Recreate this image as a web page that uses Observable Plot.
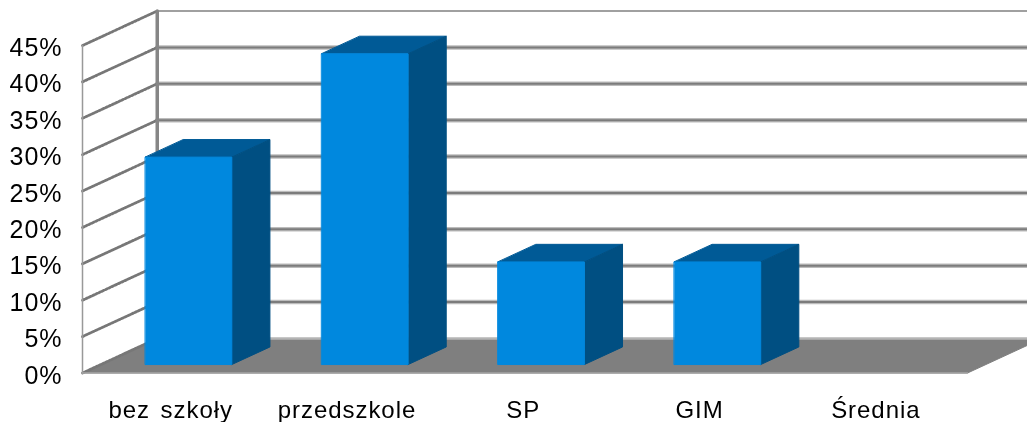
<!DOCTYPE html>
<html>
<head>
<meta charset="utf-8">
<script src="https://cdn.jsdelivr.net/npm/d3@7"></script>
<script src="https://cdn.jsdelivr.net/npm/@observablehq/plot@0.6"></script>
<style>
html,body{margin:0;padding:0;background:#fff;overflow:hidden}
svg{display:block;filter:blur(0.55px)}
svg text{letter-spacing:0.95px;word-spacing:3px}
</style>
</head>
<body>
<div id="chart"></div>
<script>
const categories = ["bez szkoły", "przedszkole", "SP", "GIM", "Średnia"];
const values = [28.5, 42.7, 14.1, 14.1, null];
const yTicks = [0, 5, 10, 15, 20, 25, 30, 35, 40, 45];

// oblique projection of the chart's depth axis, in data units
const depthX = 0.424, depthY = 4.74;
const P = (c, d, v) => ({x: c + d * depthX, y: v + d * depthY});
const poly = (id, pts) => pts.map(p => ({id, ...p}));
const xMax = categories.length;
const xEnd = xMax + 0.02;
const yMax = yTicks[yTicks.length - 1];

const floor = poly("floor", [P(0,0,0), P(xEnd,0,0), P(xEnd,1,0), P(0,1,0)]);
const backLines = yTicks.flatMap(v => [P(0,1,v), P(xEnd,1,v)].map(p => ({id: v, ...p})));
const sideLines = yTicks.flatMap(v => [P(0,0,v), P(0,1,v)].map(p => ({id: v, ...p})));

const fronts = [], tops = [], sides = [];
values.forEach((v, i) => {
  if (v == null) return;
  const a = i + 0.253, b = i + 0.743, d0 = 0.245, d1 = 0.755;
  fronts.push(...poly(i, [P(a,d0,0), P(b,d0,0), P(b,d0,v), P(a,d0,v)]));
  tops.push(...poly(i, [P(a,d0,v), P(b,d0,v), P(b,d1,v), P(a,d1,v)]));
  sides.push(...poly(i, [P(b,d0,0), P(b,d1,0), P(b,d1,v), P(b,d0,v)]));
});
const labels = categories.map((name, i) => ({name, x: i + 0.5}));
const face = (data, fill) => Plot.line(data, {x: "x", y: "y", z: "id", fill, stroke: fill, strokeWidth: 1, strokeLinejoin: "round", curve: "linear-closed"});
const inner = backLines.filter(d => d.id !== 0 && d.id !== yMax);

const plot = Plot.plot({
  width: 1027,
  height: 422,
  marginLeft: 82,
  marginRight: 63.5,
  marginTop: 45,
  marginBottom: 49.5,
  style: {background: "#fff", fontFamily: "'Liberation Sans', Arial, sans-serif", overflow: "hidden"},
  x: {domain: [0, xMax], axis: null},
  y: {domain: [0, yMax], axis: null},
  marks: [
    face(floor, "#7f7f7f"),
    Plot.line(inner, {x: "x", y: "y", z: "id", stroke: "#bcbcbc", strokeWidth: 4.5}),
    Plot.line(inner, {x: "x", y: "y", z: "id", stroke: "#7c7c7c", strokeWidth: 2}),
    Plot.line(backLines.filter(d => d.id === yMax), {x: "x", y: "y", z: "id", stroke: "#a0a0a0", strokeWidth: 2}),
    Plot.line(backLines.filter(d => d.id === 0), {x: "x", y: "y", z: "id", stroke: "#b4b4b4", strokeWidth: 2.5}),
    Plot.line(sideLines, {x: "x", y: "y", z: "id", stroke: "#777", strokeWidth: 2.8, strokeDasharray: "2 1.6"}),
    Plot.line([P(0,1,0), P(0,1,yMax)], {x: "x", y: "y", stroke: "#868686", strokeWidth: 3.5}),
    Plot.line([P(0,0,0), P(0,0,yMax)], {x: "x", y: "y", stroke: "#999", strokeWidth: 1.5}),
    Plot.line([P(0,0,0), P(xEnd,0,0)], {x: "x", y: "y", stroke: "#a6a6a6", strokeWidth: 1.5}),
    face(tops, "#005a96"),
    face(sides, "#004f82"),
    face(fronts, "#0088de"),
    Plot.axisY({ticks: yTicks, tickSize: 0, tickPadding: 20, tickFormat: d => d + "%", fontSize: 25, dy: 2.5, fill: "#000", label: null}),
    Plot.text(labels, {x: "x", y: () => 0, text: "name", dy: 37.5, fontSize: 24, fill: "#000"})
  ]
});
document.getElementById("chart").appendChild(plot);
</script>
</body>
</html>
